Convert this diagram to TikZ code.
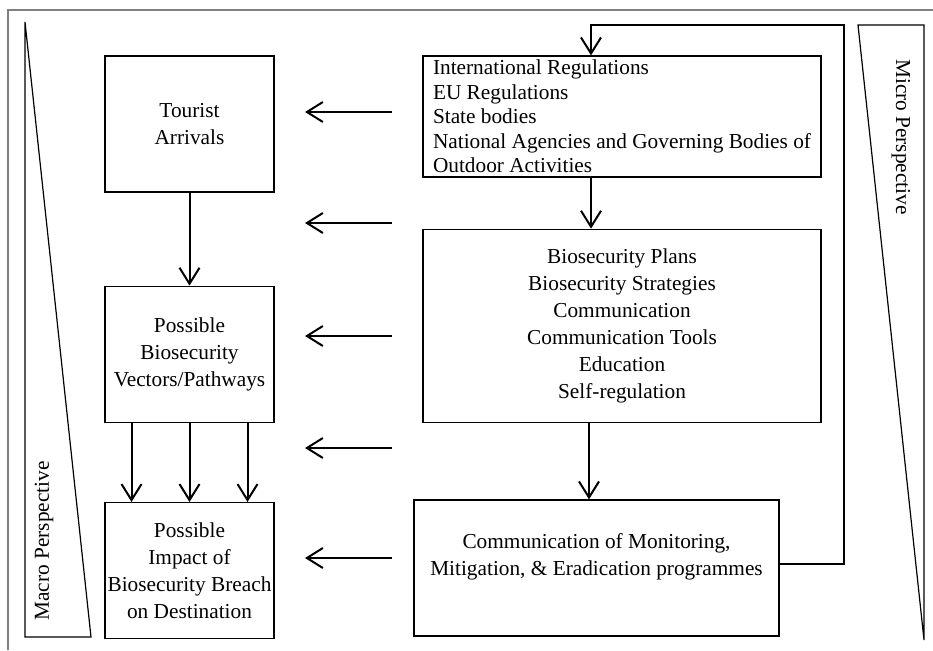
\documentclass[tikz,border=0pt]{standalone}
\usepackage{fontspec}
\setmainfont{Liberation Serif}
\usetikzlibrary{arrows.meta,positioning}

\begin{document}
\begin{tikzpicture}[x=1pt,y=-1pt,node distance=50pt,
 box/.style={draw,line width=1.3pt,align=center,minimum width=169pt,minimum height=136pt,inner sep=2pt,font=\fontsize{21.3}{27}\selectfont},
 arr/.style={-{Straight Barb[length=16pt,width=20pt]},line width=2pt},
 wedge/.style={draw,line width=1.2pt,line join=miter},
 side/.style={font=\fontsize{21.3}{27}\selectfont}]
\useasboundingbox (0,0) rectangle (933,650);
\draw[gray,line width=1.6pt] (8,650) |- (933,10);
% perspective wedges
\draw[wedge] (25,22) -- (25,637) -- (91,637) -- cycle;
\draw[wedge] (858,25) -- (924,25) -- (924,640) -- cycle;
\node[side,rotate=90] (macro) at (44,541) {Macro Perspective};
\node[side,rotate=-90] (micro) at (901,137) {Micro Perspective};
% left column
\node[box] (tourist) at (189.5,124) {Tourist\\Arrivals};
\node[box,below=93pt of tourist] (vectors) {Possible\\Biosecurity\\Vectors/Pathways};
\node[box,below=79pt of vectors] (impact) {Possible\\Impact of\\Biosecurity Breach\\on Destination};
% right column
\node[box,minimum width=398pt,minimum height=121pt,inner ysep=0pt,align=left,font=\fontsize{21.3}{24.5}\selectfont] (regs) at (622,116.5) {International Regulations\\EU Regulations\\State bodies\\National Agencies and Governing Bodies of\\Outdoor Activities};
\node[box,minimum width=398pt,minimum height=193pt,below=51pt of regs] (plans) {Biosecurity Plans\\Biosecurity Strategies\\Communication\\Communication Tools\\Education\\Self-regulation};
\node[box,minimum width=365pt] (comm) at (596.5,568) {Communication of Monitoring,\\Mitigation, \& Eradication programmes\\\mbox{}};
\draw[arr] (tourist) -- (vectors);
\foreach \dx in {-58,0,58}
 \draw[arr] ([xshift=\dx pt]vectors.south) -- ([xshift=\dx pt]impact.north);
\draw[arr] ([xshift=-31pt]regs.south) -- ([xshift=-31pt]regs.south |- plans.north);
\draw[arr] ([xshift=-33pt]plans.south) -- ([xshift=-33pt]plans.south |- comm.north);
\coordinate (corner) at (844,25);
\draw[arr] ([yshift=4pt]comm.east) -| (corner) -| ([xshift=-31pt]regs.north);
% influence arrows
\foreach \y [count=\i] in {112,223,336,448,558} {
 \coordinate (from\i) at (392,\y);
 \coordinate (to\i) at (305,\y);
 \draw[arr] (from\i) -- (to\i);
}
\end{tikzpicture}
\end{document}
